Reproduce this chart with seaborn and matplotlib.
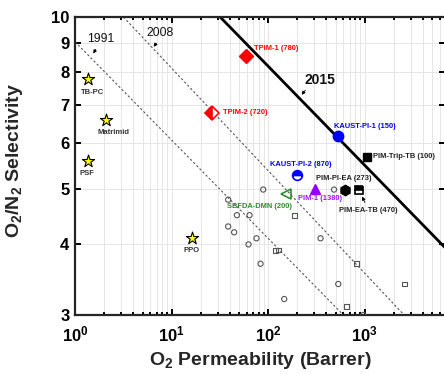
import numpy as np
import pandas as pd
import seaborn as sns
import matplotlib.pyplot as plt

# commercial polymers (yellow stars)
ref_names = ["TB-PC", "Matrimid", "PSF", "PPO"]
ref_perm = [1.37, 2.1, 1.37, 16.4]
ref_sel = [7.78, 6.59, 5.59, 4.09]

# literature data (small open symbols)
lit_circle_perm = [88.8, 38.5, 47.4, 64.0, 38.5, 44.4, 75.6, 62.5, 348, 83.2, 531, 146.5, 480, 966]
lit_circle_sel = [4.98, 4.78, 4.49, 4.49, 4.29, 4.19, 4.09, 3.99, 4.09, 3.69, 3.40, 3.20, 4.98, 3.0]
lit_square_perm = [186, 119.6, 128.5, 822, 2566, 643]
lit_square_sel = [4.49, 3.89, 3.90, 3.69, 3.40, 3.10]

# highlighted membranes
pim_names = ["TPIM-1 (780)", "TPIM-2 (720)", "KAUST-PI-1 (150)", "PIM-Trip-TB (100)",
             "KAUST-PI-2 (870)", "PIM-1 (1380)", "SBFDA-DMN (200)", "PIM-PI-EA (273)",
             "PIM-EA-TB (470)"]
pim_perm = [59.2, 26.5, 528, 1045, 198, 307, 154, 628, 871]
pim_sel = [8.55, 6.78, 6.18, 5.69, 5.28, 5.0, 4.89, 4.97, 4.97]

# upper bounds, end points
bound_years = ["1991", "2008", "2015"]
bound_perm = [[1, 600], [3.17, 2550], [31.8, 10000]]
bound_sel = [[9.05, 3.0], [10, 3.0], [10, 3.68]]

W, H = 444, 374


def fpos(x, y):
    # image pixel (from top-left) -> figure fraction
    return x / W, 1 - y / H


sns.set_theme(style="ticks")
plt.rcParams['font.family'] = ['Liberation Sans', 'DejaVu Sans']
plt.rcParams['font.weight'] = 'bold'
plt.rcParams['mathtext.fontset'] = 'custom'
plt.rcParams['mathtext.bf'] = 'Liberation Sans:bold'
plt.rcParams['mathtext.rm'] = 'Liberation Sans:bold'
plt.rcParams['mathtext.default'] = 'bf'

fig = plt.figure(figsize=(W / 100, H / 100), dpi=100)
ax = fig.add_axes([75 / W, 59 / H, 370 / W, 298 / H])
ax.set_xscale('log')
ax.set_yscale('log')
ax.set_xlim(1, 6760)
ax.set_ylim(3, 10)

ax.grid(True, which='both', axis='x', color='#e6e6e6', lw=0.7)
ax.grid(True, which='major', axis='y', color='#e6e6e6', lw=0.7)
ax.set_axisbelow(True)

# upper bounds
bound_styles = [dict(color='#555555', lw=0.8, ls=(0, (2, 2))),
                dict(color='#555555', lw=0.8, ls=(0, (2, 2))),
                dict(color='black', lw=2.0, ls='-')]
for xs, ys, st in zip(bound_perm, bound_sel, bound_styles):
    ax.plot(xs, ys, zorder=2, **st)

# literature points
circ = pd.DataFrame({"perm": lit_circle_perm, "sel": lit_circle_sel})
sq = pd.DataFrame({"perm": lit_square_perm, "sel": lit_square_sel})
sns.scatterplot(data=circ, x="perm", y="sel", marker='o', s=14, facecolor='none',
                edgecolor='#555555', linewidth=0.8, ax=ax, zorder=3)
sns.scatterplot(data=sq, x="perm", y="sel", marker='s', s=12, facecolor='none',
                edgecolor='#555555', linewidth=0.8, ax=ax, zorder=3)

# commercial polymers
ref = pd.DataFrame({"perm": ref_perm, "sel": ref_sel})
sns.scatterplot(data=ref, x="perm", y="sel", marker='*', s=85, color='#ffff00',
                edgecolor='black', linewidth=0.8, ax=ax, zorder=4)

pim_styles = [
    dict(marker='D', ms=7.5, color='red', mec='red'),
    dict(marker='D', ms=7, color='red', mec='red', fillstyle='left', markerfacecoloralt='white', mew=1.2),
    dict(marker='o', ms=7.5, color='#0000ff', mec='#0000ff'),
    dict(marker='s', ms=6.3, color='black', mec='black'),
    dict(marker='o', ms=7, color='#0000ff', mec='#0000ff', fillstyle='top', markerfacecoloralt='white', mew=1.2),
    dict(marker='^', ms=7.5, color='#9400ff', mec='#9400ff'),
    dict(marker='<', ms=7, color='none', mec='#2e8b2e', mew=1.2),
    dict(marker='h', ms=7.5, color='black', mec='black'),
    dict(marker='s', ms=6.3, color='black', mec='black', fillstyle='top', markerfacecoloralt='white', mew=1.2),
]
for x, y, st in zip(pim_perm, pim_sel, pim_styles):
    ax.plot([x], [y], ls='none', zorder=5, **st)

# axes styling
for s in ax.spines.values():
    s.set_linewidth(1.6)
    s.set_visible(True)
ax.tick_params(which='both', direction='in', top=True, right=True, width=1.4, colors='black')
ax.tick_params(which='major', length=4.5, pad=4)
ax.tick_params(axis='x', which='major', labelsize=12, pad=6.5)
ax.tick_params(axis='y', which='major', labelsize=12, pad=4)
ax.tick_params(which='minor', length=2.5)
ax.set_xticks([1, 10, 100, 1000])
ax.set_xticklabels([r'$10^{0}$', r'$10^{1}$', r'$10^{2}$', r'$10^{3}$'])
ax.set_yticks([3, 4, 5, 6, 7, 8, 9, 10])
ax.set_yticklabels(['3', '4', '5', '6', '7', '8', '9', '10'])
ax.yaxis.set_minor_locator(plt.NullLocator())
for lab in ax.get_xticklabels() + ax.get_yticklabels():
    lab.set_fontweight('bold')

ax.set_xlabel(r'O$_2$ Permeability (Barrer)', fontsize=14, fontweight='bold')
ax.set_ylabel(r'O$_2$/N$_2$ Selectivity', fontsize=14, fontweight='bold')
ax.xaxis.set_label_coords(0.5, -0.118)
ax.yaxis.set_label_coords(-0.135, 0.52)

# labels of commercial polymers
ref_label_pos = [(92, 92), (113, 133), (87, 173), (192, 250)]
for name, (px, py) in zip(ref_names, ref_label_pos):
    fig.text(*fpos(px, py), name, fontsize=5.5, fontweight='bold', color='#333333',
             ha='center', va='center')

pim_label_pos = [(254, 49), (223, 113), (334, 126), (373, 157), (270, 165),
                 (298, 198), (227, 206), (316, 179), (339, 211)]
pim_label_col = ['red', 'red', '#0000ff', '#222222', '#0000ff', '#9a1af0', '#2e8b2e',
                 '#222222', '#222222']
for name, (px, py), c in zip(pim_names, pim_label_pos, pim_label_col):
    fig.text(*fpos(px, py), name, fontsize=5.4, fontweight='bold', color=c,
             ha='left', va='center')

# upper bound year labels with arrows
year_text = [(101, 39), (160, 33), (320, 80)]
year_tail = [(97, 47), (158, 41), (307, 88)]
year_tip = [(92, 56), (152, 49), (300, 97)]
year_font = [dict(fontsize=8.8, fontweight='normal'), dict(fontsize=8.8, fontweight='normal'),
             dict(fontsize=10, fontweight='bold')]
for yr, t, a, b, f in zip(bound_years, year_text, year_tail, year_tip, year_font):
    fig.text(*fpos(*t), yr, ha='center', va='center', color='#111111', **f)
    ax.annotate('', xy=fpos(*b), xytext=fpos(*a), xycoords='figure fraction',
                textcoords='figure fraction',
                arrowprops=dict(arrowstyle='-|>', lw=0.6, color='black', mutation_scale=5))

ax.annotate('', xy=fpos(361, 194), xytext=fpos(366, 205), xycoords='figure fraction',
            textcoords='figure fraction',
            arrowprops=dict(arrowstyle='-|>', lw=0.6, color='black', mutation_scale=5))

fig.savefig('out.png', dpi=100)
